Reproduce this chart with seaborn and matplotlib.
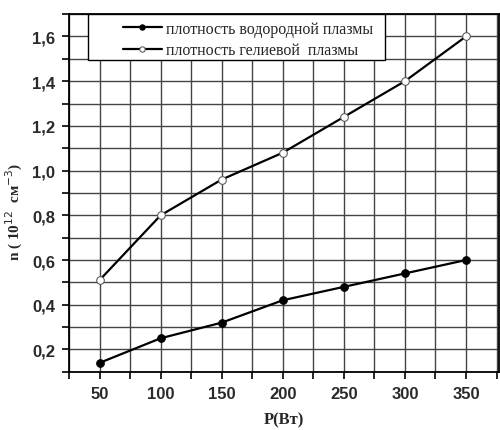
import numpy as np
import pandas as pd
import matplotlib
matplotlib.use("Agg")
import matplotlib.pyplot as plt
import seaborn as sns
from matplotlib.ticker import MultipleLocator, FuncFormatter
from matplotlib.patches import Rectangle

power = [50, 100, 150, 200, 250, 300, 350]
hydrogen = [0.14, 0.25, 0.32, 0.42, 0.48, 0.54, 0.60]
helium = [0.51, 0.80, 0.96, 1.08, 1.24, 1.40, 1.60]
label_h = "плотность водородной плазмы"
label_he = "плотность гелиевой  плазмы"

sns.set_theme(style="white")
plt.rcParams['font.family'] = ['Liberation Sans', 'DejaVu Sans']

df = pd.DataFrame({"P": power * 2,
                   "n": hydrogen + helium,
                   "s": [label_h] * len(power) + [label_he] * len(power)})

fig = plt.figure(figsize=(5, 4.31), dpi=100)
ax = fig.add_axes([0.138, 0.135, 0.86, 0.83])

sns.lineplot(data=df[df.s == label_h], x="P", y="n", ax=ax, color="black",
             lw=1.6, marker="o", markersize=5.5, markerfacecolor="black",
             markeredgecolor="black", label=label_h)
sns.lineplot(data=df[df.s == label_he], x="P", y="n", ax=ax, color="black",
             lw=1.6, marker="o", markersize=5.5, markerfacecolor="white",
             markeredgecolor="#555555", label=label_he)

ax.set_xlim(25, 377)
ax.set_ylim(0.1, 1.7)
ax.xaxis.set_major_locator(MultipleLocator(50))
ax.xaxis.set_minor_locator(MultipleLocator(25))
ax.yaxis.set_major_locator(MultipleLocator(0.2))
ax.yaxis.set_minor_locator(MultipleLocator(0.1))
ax.yaxis.set_major_formatter(FuncFormatter(lambda v, p: f"{v:.1f}".replace(".", ",")))
ax.grid(True, which="both", color="#444444", lw=1.0)
ax.set_axisbelow(True)
ax.tick_params(which="both", direction="out", length=5, width=1.2, color="black",
               left=True, bottom=True)
ax.tick_params(which="major", labelsize=12, pad=5)
for lab in ax.get_xticklabels() + ax.get_yticklabels():
    lab.set_fontweight("bold")
    lab.set_color("#2a2a2a")
for sp in ax.spines.values():
    sp.set_color("black")
    sp.set_linewidth(1.3)

ax.set_xlabel("P(Вт)", fontfamily="Liberation Serif", fontweight="bold",
              fontsize=12, labelpad=8)
ax.set_ylabel(r"n ( 10$^{12}$  см$^{-3}$)", fontfamily="Liberation Serif",
              fontweight="bold", fontsize=11)
ax.yaxis.set_label_coords(-0.102, 0.45)

# legend frame box
box = Rectangle((0.044, 0.872), 0.691, 0.128, transform=ax.transAxes,
                facecolor="white", edgecolor="black", lw=1.0, zorder=4,
                clip_on=False)
ax.add_patch(box)
leg = ax.legend(loc="upper left", bbox_to_anchor=(0.115, 0.995), frameon=False,
                prop={"family": "Liberation Serif", "size": 11.5},
                handlelength=2.4, handletextpad=0.3, borderpad=0.3,
                labelspacing=0.35, borderaxespad=0, markerscale=0.7)
leg.set_zorder(5)

fig.savefig("out.png", dpi=100)
